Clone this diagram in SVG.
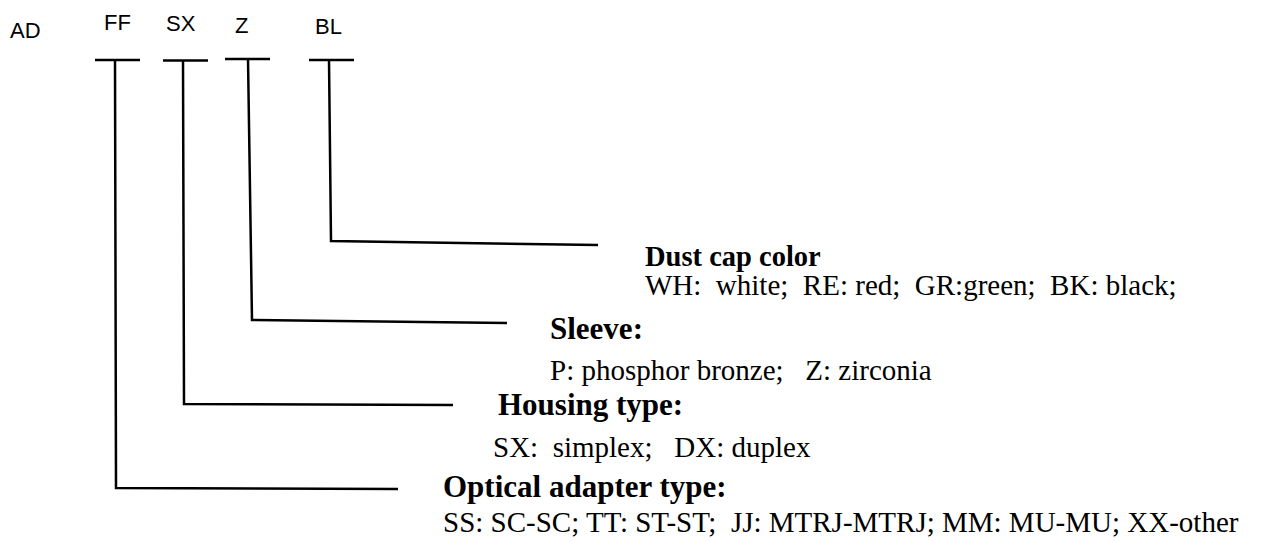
<svg xmlns="http://www.w3.org/2000/svg" width="1262" height="542" viewBox="0 0 1262 542">
<style>
.code{font-family:"Liberation Sans",Arial,sans-serif;font-size:22px;fill:#000}
.h{font-family:"Liberation Serif","Times New Roman",serif;font-weight:bold;font-size:31px;fill:#000}
.t{font-family:"Liberation Serif","Times New Roman",serif;font-size:29px;fill:#000}
.ln{fill:none;stroke:#000;stroke-width:2.5}
</style>
<rect width="1262" height="542" fill="#fff"/>
<g id="code">
<text class="code" x="10" y="38">AD</text>
<text class="code" x="104" y="30">FF</text>
<text class="code" x="166" y="31">SX</text>
<text class="code" x="235" y="33">Z</text>
<text class="code" x="315" y="34">BL</text>
</g>
<g id="connectors">
<line class="ln" x1="95" y1="60" x2="140" y2="60"/>
<line class="ln" x1="163" y1="60.5" x2="208" y2="60.5"/>
<line class="ln" x1="225" y1="59" x2="270" y2="59"/>
<line class="ln" x1="309" y1="60" x2="354" y2="60"/>
<polyline class="ln" points="115,60 116,488 398,489"/>
<polyline class="ln" points="183,61 184,404 453,405"/>
<polyline class="ln" points="248,59 252,320 507,323"/>
<polyline class="ln" points="329,60 331,241 598,245"/>
</g>
<g id="dust">
<text class="h" x="645" y="266" style="font-size:28.5px">Dust cap color</text>
<text class="t" x="645" y="295" xml:space="preserve">WH:  white;  RE: red;  GR:green;  BK: black;</text>
</g>
<g id="sleeve">
<text class="h" x="550" y="339">Sleeve:</text>
<text class="t" x="550" y="380" xml:space="preserve">P: phosphor bronze;   Z: zirconia</text>
</g>
<g id="housing">
<text class="h" x="498" y="415">Housing type:</text>
<text class="t" x="493" y="457" xml:space="preserve">SX:  simplex;   DX: duplex</text>
</g>
<g id="adapter">
<text class="h" x="443" y="497">Optical adapter type:</text>
<text class="t" x="443" y="532" xml:space="preserve">SS: SC-SC; TT: ST-ST;  JJ: MTRJ-MTRJ; MM: MU-MU; XX-other</text>
</g>
</svg>
